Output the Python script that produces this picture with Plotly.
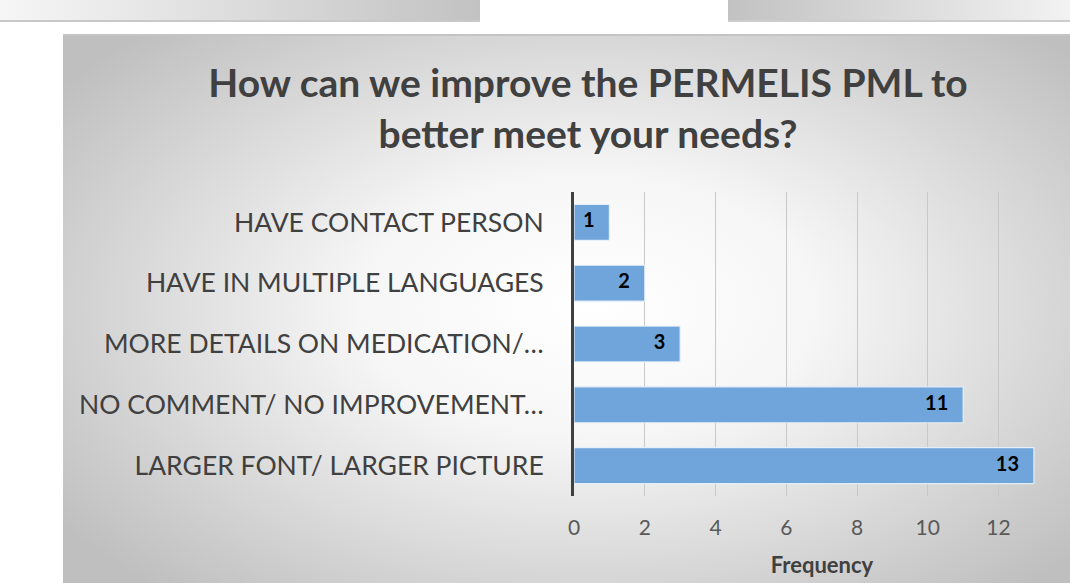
import base64
import plotly.graph_objects as go

categories = [
    "LARGER FONT/ LARGER PICTURE",
    "NO COMMENT/ NO IMPROVEMENT…",
    "MORE DETAILS ON MEDICATION/…",
    "HAVE IN MULTIPLE LANGUAGES",
    "HAVE CONTACT PERSON",
]
values = [13, 11, 3, 2, 1]
x_ticks = [0, 2, 4, 6, 8, 10, 12, 14]
title_text = "How can we improve the PERMELIS PML to<br>better meet your needs?"
x_title = "Frequency"

W, H = 1070, 583
L, R, T, B = 574, 0, 192, 87


def svg_uri(svg):
    return "data:image/svg+xml;base64," + base64.b64encode(svg.encode()).decode()


panel_svg = (
    '<svg xmlns="http://www.w3.org/2000/svg" width="1050" height="605" viewBox="0 0 1050 605" preserveAspectRatio="none">'
    '<defs><radialGradient id="g" cx="0.5" cy="0.45" r="0.62" gradientUnits="objectBoundingBox">'
    '<stop offset="0" stop-color="#ffffff"/><stop offset="0.35" stop-color="#f6f6f6"/>'
    '<stop offset="1" stop-color="#bfbfbf"/></radialGradient></defs>'
    '<rect x="0" y="0" width="1050" height="605" fill="url(#g)"/>'
    '<rect x="0" y="0" width="1050" height="2" fill="#c4c4c4"/>'
    '</svg>'
)
left_strip = (
    '<svg xmlns="http://www.w3.org/2000/svg" width="480" height="22" viewBox="0 0 480 22" preserveAspectRatio="none">'
    '<defs><linearGradient id="a" x1="0" y1="0" x2="1" y2="0">'
    '<stop offset="0" stop-color="#f6f6f6"/><stop offset="1" stop-color="#c2c2c2"/></linearGradient></defs>'
    '<rect width="480" height="20" fill="url(#a)"/><rect y="20" width="480" height="2" fill="#c8c8c8"/></svg>'
)
right_strip = (
    '<svg xmlns="http://www.w3.org/2000/svg" width="342" height="22" viewBox="0 0 342 22" preserveAspectRatio="none">'
    '<defs><linearGradient id="b" x1="0" y1="0" x2="1" y2="0">'
    '<stop offset="0" stop-color="#c2c2c2"/><stop offset="1" stop-color="#f2f2f2"/></linearGradient></defs>'
    '<rect width="342" height="20" fill="url(#b)"/><rect y="20" width="342" height="2" fill="#cdcdcd"/></svg>'
)

pw = W - L - R
ph = H - T - B


def px(xp):
    return (xp - L) / pw


def py(yp):
    return (H - B - yp) / ph


images = [
    dict(source=svg_uri(panel_svg), xref="paper", yref="paper",
         x=px(63), y=py(34), sizex=(1113 - 63) / pw, sizey=(639 - 34) / ph,
         xanchor="left", yanchor="top", sizing="stretch", layer="below"),
    dict(source=svg_uri(left_strip), xref="paper", yref="paper",
         x=px(0), y=py(0), sizex=480 / pw, sizey=22 / ph,
         xanchor="left", yanchor="top", sizing="stretch", layer="below"),
    dict(source=svg_uri(right_strip), xref="paper", yref="paper",
         x=px(728), y=py(0), sizex=342 / pw, sizey=22 / ph,
         xanchor="left", yanchor="top", sizing="stretch", layer="below"),
]

fig = go.Figure()
fig.add_trace(go.Bar(
    y=categories, x=values, orientation="h",
    marker=dict(color="#6fa5da", line=dict(color="rgba(235,242,250,0.9)", width=1.2)),
    hoverinfo="skip",
))
fig.add_trace(go.Scatter(
    y=categories, x=[v - 0.42 for v in values], mode="text",
    text=[str(v) for v in values], textposition="middle left",
    textfont=dict(family="Lato", size=20, color="#000000", weight="bold"),
    hoverinfo="skip", showlegend=False,
))

fig.update_layout(
    width=W, height=H,
    margin=dict(l=L, r=R, t=T, b=B, autoexpand=False),
    paper_bgcolor="#ffffff", plot_bgcolor="rgba(0,0,0,0)",
    showlegend=False, bargap=0.41,
    images=images,
    title=dict(text="<b>" + title_text + "</b>", x=px(588), xref="paper", xanchor="center",
               y=1 - 97 / H, yref="container", yanchor="top",
               font=dict(family="Lato", size=39, color="#404040")),
    xaxis=dict(range=[0, 14.02], tickvals=x_ticks, ticktext=[str(t) for t in x_ticks],
               showgrid=True, gridcolor="#c8c8c8", gridwidth=1,
               zeroline=False, showline=False, ticks="",
               ticklabelstandoff=17,
               tickfont=dict(family="Lato", size=21, color="#595959"),
               title=dict(text="<b>" + x_title + "</b>", standoff=19,
                          font=dict(family="Lato", size=22, color="#404040")),
               fixedrange=True),
    yaxis=dict(showline=True, linecolor="#404040", linewidth=3, ticks="",
               tickfont=dict(family="Lato", size=26.5, color="#404040"),
               ticklabelstandoff=22, fixedrange=True, automargin=False),
)

fig.write_html(
    "out.html",
    config={"displayModeBar": False, "staticPlot": True},
    post_script="document.body.style.margin='0';document.body.style.padding='0';document.body.style.overflow='hidden';",
)
